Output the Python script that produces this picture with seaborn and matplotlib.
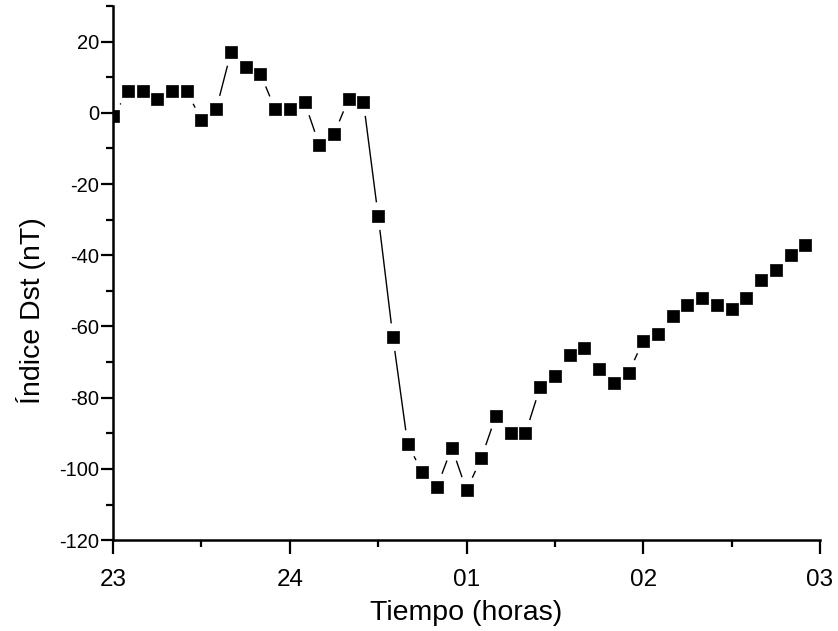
import numpy as np
import pandas as pd
import matplotlib
matplotlib.use("Agg")
import matplotlib.pyplot as plt
import seaborn as sns
from matplotlib.ticker import MultipleLocator

# Dst index every 5 minutes from 23 h
dst = [-1, 6, 6, 4, 6, 6, -2, 1, 17, 13, 11, 1,
       1, 3, -9, -6, 4, 3, -29, -63, -93, -101, -105, -94,
       -106, -97, -85, -90, -90, -77, -74, -68, -66, -72, -76, -73,
       -64, -62, -57, -54, -52, -54, -55, -52, -47, -44, -40, -37]
step_min = 5
start_hour = 23
hours = start_hour + np.arange(len(dst)) * step_min / 60.0

xticks = [23, 24, 25, 26, 27]
xticklabels = ["23", "24", "01", "02", "03"]
yticks = [20, 0, -20, -40, -60, -80, -100, -120]

df = pd.DataFrame({"t": hours, "dst": dst})

sns.set_theme(style="ticks")
plt.rcParams["font.family"] = ["Liberation Sans", "DejaVu Sans"]
plt.rcParams["axes.unicode_minus"] = False
plt.rcParams["text.color"] = "black"
plt.rcParams["axes.labelcolor"] = "black"
plt.rcParams["xtick.color"] = "black"
plt.rcParams["ytick.color"] = "black"

fig = plt.figure(figsize=(8.38, 6.31), dpi=100)
ax = fig.add_axes([0.135, 0.144, 0.8435, 0.8465])

sns.lineplot(data=df, x="t", y="dst", ax=ax, color="black", linewidth=1.0,
             zorder=1, estimator=None)
sns.scatterplot(data=df, x="t", y="dst", ax=ax, marker="o", s=400,
                color="white", edgecolor="none", linewidth=0, zorder=2)
sns.scatterplot(data=df, x="t", y="dst", ax=ax, marker="s", s=64,
                color="black", edgecolor="black", linewidth=0.5, zorder=3)

ax.set_xlim(23, 27)
ax.set_ylim(-120, 30)
ax.set_xticks(xticks)
ax.set_xticklabels(xticklabels)
ax.set_yticks(yticks)
ax.set_yticklabels([str(v) for v in yticks])
ax.xaxis.set_minor_locator(MultipleLocator(0.5))
ax.yaxis.set_minor_locator(MultipleLocator(10))

for s in ["top", "right"]:
    ax.spines[s].set_visible(False)
for s in ["left", "bottom"]:
    ax.spines[s].set_linewidth(1.8)
    ax.spines[s].set_color("black")

ax.tick_params(axis="both", which="major", direction="out", length=10,
               width=1.6, colors="black")
ax.tick_params(axis="both", which="minor", direction="out", length=5,
               width=1.6, colors="black")
ax.tick_params(axis="x", which="major", labelsize=17.5, pad=11)
ax.tick_params(axis="y", which="major", labelsize=14.5, length=9, pad=1)

ax.set_xlabel("Tiempo (horas)", fontsize=20.5, labelpad=6, color="black")
ax.set_ylabel("Índice Dst (nT)", fontsize=20.5, color="black")
ax.yaxis.set_label_coords(-0.095, 0.43)
ax.set_facecolor("white")

fig.savefig("out.png", dpi=100, facecolor="white")
